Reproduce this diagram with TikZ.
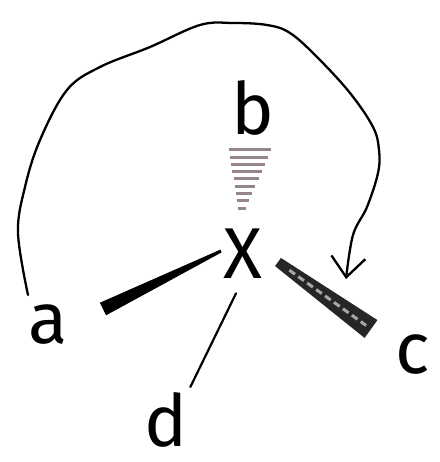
\documentclass[tikz,border=0pt]{standalone}
\usepackage{fontspec}
\newfontfamily\handfont{Fira Sans}
\usepackage{xcolor}
\usepackage{tikz}
\usetikzlibrary{arrows.meta,calc}

\definecolor{hashgray}{RGB}{150,132,142}

\tikzset{
  lbl/.style={inner sep=0pt,font=\handfont\fontsize{72}{72}\selectfont},
  thinbond/.style={line width=2.2pt,line cap=round},
  turn/.style={line width=2.3pt,line cap=round,
    -{Straight Barb[length=20pt,width=34pt,line width=2.3pt]}},
}

% filled wedge between two points, half widths #3 (start) and #4 (end)
\newcommand{\wedgefill}[4]{%
  ($(#1)!#3!90:(#2)$) -- ($(#2)!#4!-90:(#1)$) --
  ($(#2)!#4!90:(#1)$) -- ($(#1)!#3!-90:(#2)$) -- cycle}

\begin{document}
\begin{tikzpicture}[x=1pt,y=-1pt]
  \fill[white] (0,0) rectangle (439,462);
  \useasboundingbox (0,0) rectangle (439,462);

  \node[lbl] (x) at (243,254) {X};
  \node[lbl] (b) at (253,108) {b};
  \node[lbl] (a) at (48,325) {a};
  \node[lbl] (c) at (413,355) {c};
  \node[lbl] (d) at (166,420) {d};

  % bold wedge to a
  \coordinate (wa1) at (221,251);
  \coordinate (wa2) at (103,309);
  \fill[black] \wedgefill{wa1}{wa2}{1.5pt}{7pt};

  % bold wedge to c
  \coordinate (wc1) at (278,262);
  \coordinate (wc2) at (371,329);
  \fill[black!85] \wedgefill{wc1}{wc2}{5pt}{11pt};
  \draw[black!35,line width=3pt,dash pattern=on 7pt off 4pt,
    shorten <=14pt,shorten >=6pt] (wc1) -- (wc2);

  % hashed wedge to b
  \coordinate (hb1) at (242,208);
  \coordinate (hb2) at (250,150);
  \foreach \i in {0,...,8}{
    \pgfmathsetmacro{\t}{\i/8}
    \pgfmathsetmacro{\w}{4+17*\t}
    \draw[hashgray,line width=3pt]
      ($(hb1)!\t!(hb2)+(-\w,0)$) -- ($(hb1)!\t!(hb2)+(\w,0)$);
  }

  % plain bond to d
  \draw[thinbond,shorten <=16pt,shorten >=6pt] (x.south) -- (d.north east);

  % curved arrow from a round to c
  \coordinate (tip) at (346,279);
  \draw[turn] plot[smooth,tension=0.6] coordinates {
    (28,295) (18,233) (25,187) (40,140) (67,90) (100,67) (150,47)
    (200,25) (233,23) (267,25) (290,33) (317,57) (350,93) (373,127)
    (379,150) (378,173) (367,207) (353,235) (tip)};
\end{tikzpicture}
\end{document}
